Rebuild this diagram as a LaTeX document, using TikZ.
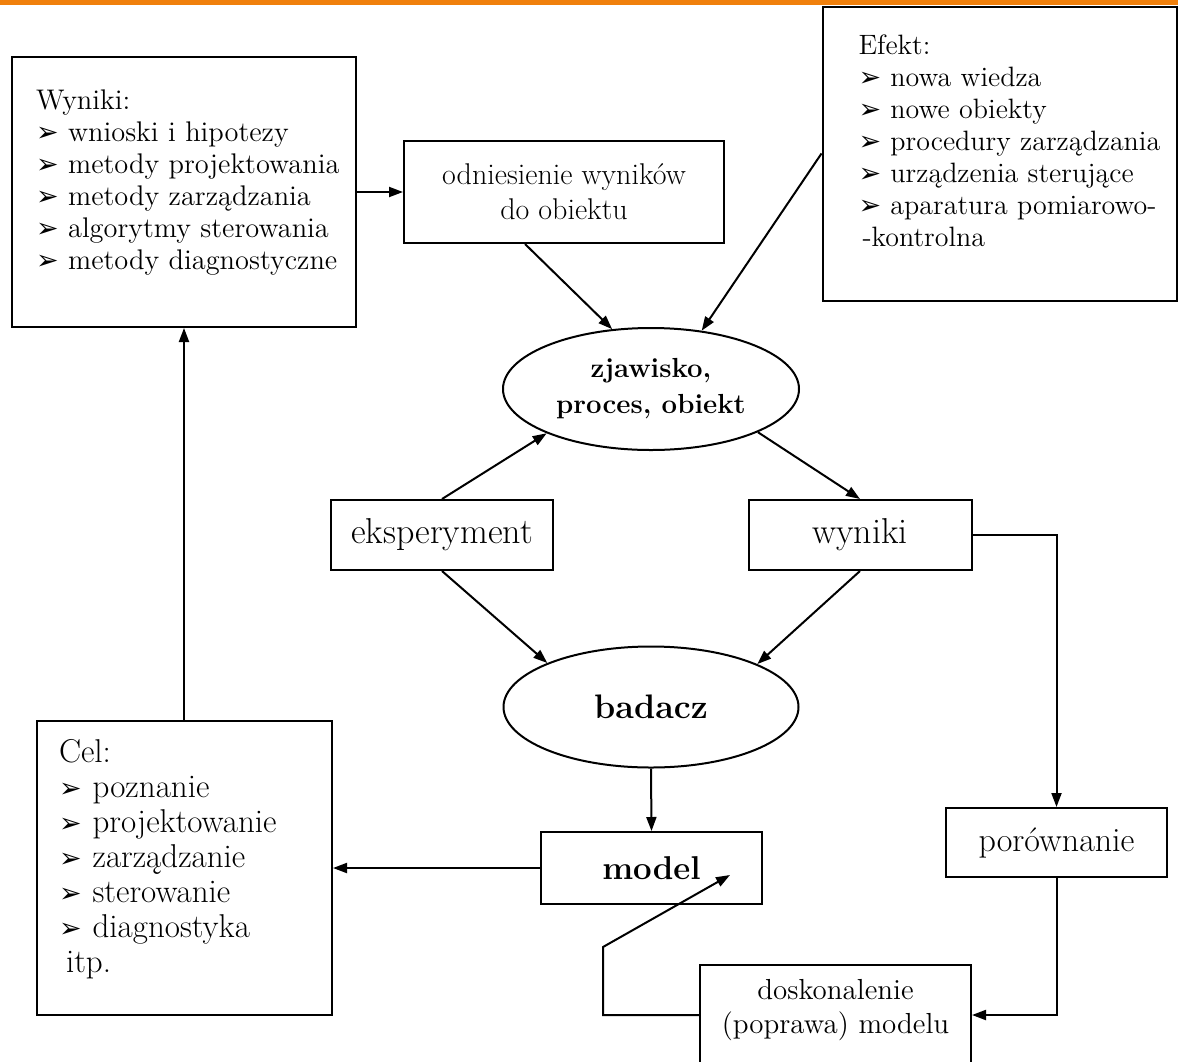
\documentclass[tikz,border=0pt]{standalone}
\usepackage{fontspec}
\usepackage{xcolor}
\usepackage{tikz}
\usetikzlibrary{arrows.meta,positioning,calc,shapes.geometric}

\newfontfamily\dingfont{DejaVu Sans}
\definecolor{barorange}{RGB}{240,128,12}
\newcommand{\pkt}[1]{\mbox{{\dingfont\fontsize{13.5}{13.5}\selectfont ➢}\ #1}}
\newcommand{\upshift}[1]{\par\vspace{#1}\hrule height 0pt}

\tikzset{
  box/.style={draw, line width=1pt, rectangle, inner sep=0pt, align=center},
  listbox/.style={draw, line width=1pt, rectangle, inner sep=0pt, align=left},
  oval/.style={draw, line width=1pt, ellipse, inner sep=0pt, align=center},
  arr/.style={line width=1pt, -{Triangle[length=7pt,width=5pt]}}
}

\begin{document}
\begin{tikzpicture}[x=0.5pt, y=-0.5pt]
    \useasboundingbox (0,0) rectangle (1178,1061);
    % Top bar
    \fill[barorange] (0,0) rectangle (1178,5);

    % Lists (results, effect, goal)
    \node[listbox, minimum width=172pt, minimum height=135pt, text width=148pt,
          font=\fontsize{14.2}{16}\selectfont] (wynbox) at (184,192)
        {Wyniki:\\ \pkt{wnioski i hipotezy}\\ \pkt{metody projektowania}\\
         \pkt{metody zarządzania}\\ \pkt{algorytmy sterowania}\\
         \pkt{metody diagnostyczne}\upshift{9pt}};
    \node[listbox, minimum width=177pt, minimum height=147pt, text width=141pt,
          font=\fontsize{14}{16}\selectfont] (efektbox) at (999.5,153.5)
        {Efekt:\\ \pkt{nowa wiedza}\\ \pkt{nowe obiekty}\\
         \pkt{procedury zarządzania}\\ \pkt{urządzenia sterujące}\\
         \pkt{aparatura pomiarowo-}\\ \hspace*{2pt}-kontrolna\upshift{13pt}};
    \node[listbox, minimum width=147.5pt, minimum height=147pt, text width=125.5pt,
          font=\fontsize{16.5}{17.5}\selectfont] (celbox) at (184.5,868)
        {Cel:\\ \pkt{poznanie}\\ \pkt{projektowanie}\\ \pkt{zarządzanie}\\
         \pkt{sterowanie}\\ \pkt{diagnostyka}\\ \hspace*{3.5pt}itp.\upshift{9pt}};

    % Main chain
    \node[box, minimum width=160pt, minimum height=51pt,
          font=\fontsize{15}{17.5}\selectfont] (odnbox) at (564,192)
        {odniesienie wyników\\do obiektu};
    \node[oval, minimum width=148pt, minimum height=61pt,
          font=\bfseries\fontsize{13.8}{18}\selectfont] (zjaw) at (651,389)
        {zjawisko,\\proces, obiekt};
    \node[box, minimum width=111pt, minimum height=35pt,
          font=\fontsize{18}{20}\selectfont] (eksp) at (442,535) {eksperyment};
    \node[box, minimum width=111.5pt, minimum height=35pt,
          font=\fontsize{18}{20}\selectfont] (wyn) at (860,535) {wyniki};
    \node[oval, minimum width=147.5pt, minimum height=60.5pt,
          font=\bfseries\fontsize{17}{20}\selectfont] (badacz) at (651,707) {badacz};
    \node[box, minimum width=110.5pt, minimum height=36pt,
          font=\bfseries\fontsize{16.5}{20}\selectfont] (model) at (651.5,868) {model};
    \node[box, minimum width=110.5pt, minimum height=34.5pt,
          font=\fontsize{17}{18}\selectfont] (por) at (1056.5,842.5) {porównanie};
    \node[box, minimum width=135.5pt, minimum height=50pt, text width=130pt,
          font=\fontsize{14.5}{17}\selectfont] (dosk) at (835.5,1015)
        {doskonalenie\\(poprawa) modelu\upshift{5pt}};

    % Feedback corner and tip
    \coordinate (fbk) at (603,947);
    \coordinate (fbtip) at (730,875);

    % Connectors
    \draw[arr] (wynbox.east) -- (wynbox.east -| odnbox.west);
    \draw[arr] ($(odnbox.south)+(-39,0)$) -- (zjaw.123.5);
    \draw[arr] (efektbox.west) -- (zjaw.49);
    \draw[arr] (eksp.north) -- (zjaw.203.5);
    \draw[arr] (zjaw.-22) -- (wyn.north);
    \draw[arr] (eksp.south) -- (badacz.157.5);
    \draw[arr] (wyn.south) -- (badacz.22.5);
    \draw[arr] (badacz.south) -- (model.north);
    \draw[arr] (model.west) -- (model.west -| celbox.east);
    \draw[arr] (celbox.north -| wynbox.south) -- (wynbox.south);
    \draw[arr] (wyn.east) -| (por.north);
    \draw[arr] (por.south) |- (dosk.east);
    \draw[arr] (dosk.west) -| (fbk) -- (fbtip);
\end{tikzpicture}
\end{document}
